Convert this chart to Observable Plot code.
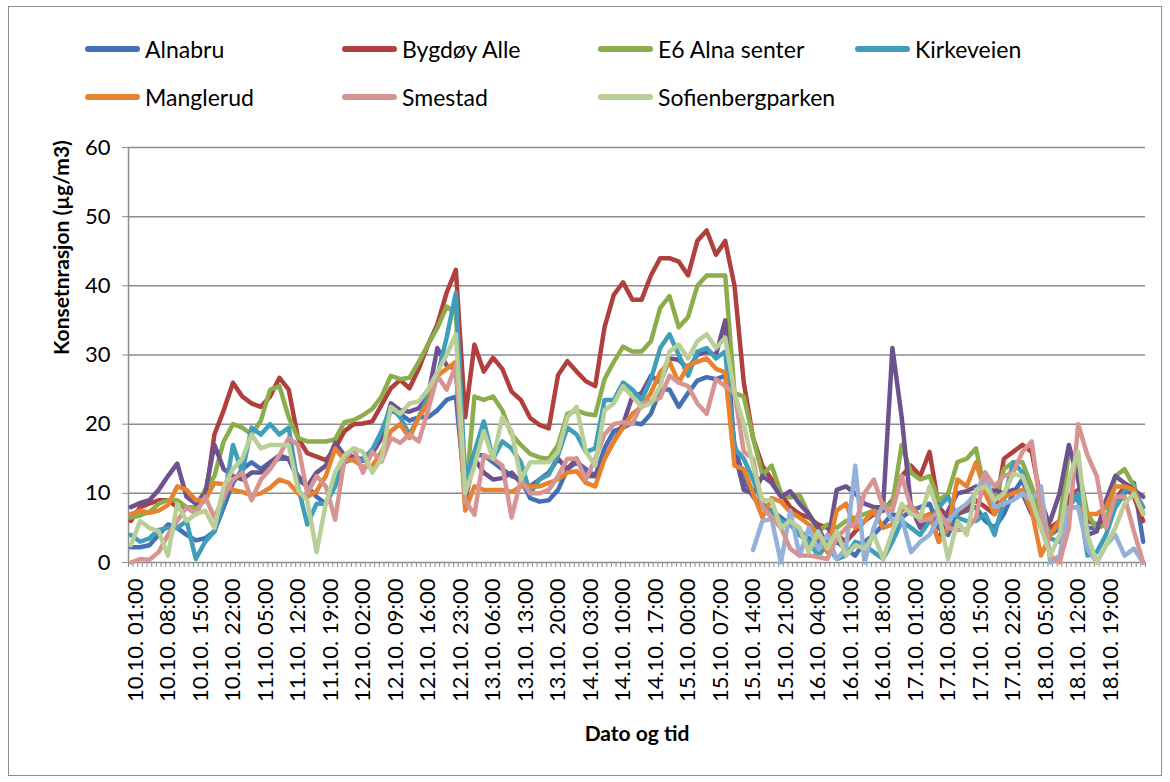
<!DOCTYPE html>
<html>
<head>
<meta charset="utf-8">
<script src="https://cdn.jsdelivr.net/npm/d3@7"></script>
<script src="https://cdn.jsdelivr.net/npm/@observablehq/plot@0.6"></script>
<style>
html, body { margin: 0; padding: 0; background: #fff; }
#wrap { position: relative; width: 1170px; height: 782px; overflow: hidden; font-family: Lato, "Open Sans", sans-serif; }
#frame { position: absolute; left: 8px; top: 6px; width: 1154px; height: 770px; border: 1px solid #8c8c8c; box-sizing: border-box; pointer-events: none; }
#legend { position: relative; width: 1170px; height: 130px; }
.item { position: absolute; display: flex; align-items: center; height: 28px; line-height: 28px; font-size: 23px; color: #000; white-space: nowrap; }
.swatch { width: 55px; height: 6px; border-radius: 3px; margin-right: 5px; }
#chart svg { display: block; }
</style>
</head>
<body>
<div id="wrap">
  <div id="legend"></div>
  <div id="chart"></div>
  <div id="frame"></div>
</div>
<script>
// ---- data (hourly categories, read every 2nd hour) ----
const xLabels = ["10.10. 01:00","10.10. 08:00","10.10. 15:00","10.10. 22:00","11.10. 05:00","11.10. 12:00","11.10. 19:00","12.10. 02:00","12.10. 09:00","12.10. 16:00","12.10. 23:00","13.10. 06:00","13.10. 13:00","13.10. 20:00","14.10. 03:00","14.10. 10:00","14.10. 17:00","15.10. 00:00","15.10. 07:00","15.10. 14:00","15.10. 21:00","16.10. 04:00","16.10. 11:00","16.10. 18:00","17.10. 01:00","17.10. 08:00","17.10. 15:00","17.10. 22:00","18.10. 05:00","18.10. 12:00","18.10. 19:00"];
const nCategories = 219;          // hourly categories 10.10. 00:00 ... 19.10. 02:00
const hours = d3.range(0, 219, 2); // hour index of each reading below
const yTicks = [0, 10, 20, 30, 40, 50, 60];

const alnabru = [2.2,2.2,2.5,4,5.5,5,4,3.2,3.5,4.5, 8,11.5,13.5,14.5,13.5,14.5,15,15,12,11, 9.5,8.5,12,14.5,15,15,16.3,18.5,22,21.5, 20.5,21,21,22,23.5,24,10,15.5,15.5,14.5, 13.5,12.5,12,9.3,8.8,9,10.5,13.5,14.5,13.5, 12.5,16.5,19,19.5,20.2,20,21.5,25,25,22.5, 24.5,26.3,26.8,26.5,27,17,12,9.5,8,7.5, 6.5,5.5,4.5,3.5,3,2.5,3,2,1,3, 4,5.5,7,6.5,7.5,8,8.5,5,4,7, 7.5,8,6,5,7,10,12,8,5.5,4, 5,9.5,9,5,5,5.5,8,10,11.5,3];
const bygdoy = [6,8,8.5,9,9,8,8,8,9,18.5, 22,26,24,23,22.5,24,26.7,25,18,15.8, 15.3,14.8,16.5,19,20,20.1,20.4,22.8,25.2,26.4, 25.2,28,31.5,34.4,39,42.3,21,31.5,27.6,29.6, 28,24.7,23.5,20.9,19.9,19.4,27.1,29.1,27.6,26.2, 25.5,34,38.7,40.5,38,38,41.5,44,44,43.5, 41.5,46.5,48,44.5,46.5,40,26,18,14,12, 10,8,7,6.5,5.5,5,4,3,4.5,6, 7,7.5,9,12.5,14,12.5,16,8,6.5,7, 8,9,8,7,15,16,17,16,9,5, 6,9.5,10.5,6,5.5,6,9,11,9.5,6];
const e6 = [6.5,6.8,7.3,8.5,9,9,8,8,10.5,12.5, 17.5,20,19.5,18.5,20.5,25,25.5,21,18,17.5, 17.5,17.5,17.8,20.3,20.6,21.3,22.2,24,27,26.5, 26.7,29,31.5,33.9,37,36,9,24,23.5,24, 22,18.5,17,15.7,15.2,15,17,21.5,22,21.5, 21.3,26.5,29,31.2,30.5,30.5,32,36.8,38.5,34, 35.5,40,41.5,41.5,41.5,24.5,24,18,12.7,14, 10,9.4,9.8,7,4.5,5.5,5,6,6.5,7, 7.5,8,8.5,17,13,12,12.5,9,10,14.5, 15,16.5,10,9,13.5,14.5,14.5,11,7,4, 6,16,14,7,5,5.5,12.5,13.5,11,7];
const kirkeveien = [4,3,3.5,4.7,5,5,6,0.5,3,4.5, 9,17,13,19.5,18.5,20,18.5,19.5,11,5.5, 8.5,8.5,11,14.5,15,14.8,16.3,19,22.5,21, 18.5,21,24,27,32.5,39,12,16,20.4,15, 17.5,16.5,14.5,10,12,12.7,15.5,19.5,18.5,16, 16.5,23.5,23.5,26,25,23.5,26.5,31,33,30, 27,30.5,31,29.5,30.5,16.5,15,12,8.5,7.5, 6,5.5,4,3,1,2.5,0.5,1,3,2.5, 1.5,0.5,3,6,5,4,6,8,9.5,6.5, 6,6,7,4,9,14.5,13,9,5,3.5, 3,8,10,1,1.5,4,8,10.5,10.5,8];
const manglerud = [7,7.5,7.2,7.5,8.3,11,10.5,9,9,11.5, 11.3,10.5,10.2,9.7,10,10.8,12,11.5,10,9.5, 10.3,12.5,16.5,14.8,14.8,13.8,14,16,19,20, 18,21,23,27,28,29,7.5,11,10.5,10.5, 10.5,10.2,11,11,11,11.5,12,13,13.2,11.5, 11,15,17.5,19.5,21.5,22.5,24.5,27.5,29,26, 28.5,29,29.5,28,27.5,14,13.5,10,6.5,9.3, 8.8,7.3,6.5,5.5,4,1.5,7.5,8.5,5,6, 7.5,5,5.5,7.5,8.3,6.5,7,3,5,12, 11,14.5,10,7,9.5,10,10.5,7.5,1,4, 6,8,8,7,7,8,11,11,10.5,7];
const smestad = [0,0.5,0.4,1.5,4,6,8,7,9.5,6.5, 9.5,12,13,9,12,13.5,15.5,18,17,10, 12.5,11,6.2,15,16.5,13,16,14.6,18,17.3, 18.5,17.5,22,27,25,28.5,9,6.9,15.5,15, 14,6.5,12,10,10,10.5,12.5,15,15,12, 15,18.5,20,20.3,20,23,23.3,23.8,27,26, 25.5,23,21.5,26.5,25.5,24.5,16,15,8,6.5, 5,2,1,1,0.8,0.5,3.5,5,5.5,10, 12,8,7.5,12.5,8,6,6.3,7.3,5,4.7, 4.8,6.5,13,11,12.5,13,16,17.5,7.5,1, 0,5,20,15.5,12.5,5,9.5,9.5,4.5,0];
const sofienberg = [2.5,6,5,4.5,1,8.5,6,7,7.5,5, 11,13.5,15,18.5,16.5,17,17,17,10.5,9, 1.5,8.5,13,15.5,16.5,16,13,15,22.5,21.5, 23,23.3,25,27.5,30,33,10,14,19,15, 21,19,12,14.5,14.5,14.5,16,21,22.5,16, 14,22,23,25.5,24,22.5,23,25.5,30.5,31.5, 29.5,32,33,31,32.5,24.5,20,14,9,9, 5,6,5,1.5,4.5,2,4.5,1,2.5,2, 4,0.5,4.5,8.5,7,6.5,11,7,0.5,6, 4,10.5,11,9,10,12.8,12.5,9,5,1, 4,12,16,4,0,2.5,5,8.5,10,7];
const purple = [8,8.6,9,10.5,12.5,14.3,9.5,8.5,10,17, 13.5,12.5,12,13,13,14.5,15.5,15,12.5,11, 13,14,17.3,15.5,15.3,14.7,15.8,18,23,22, 21.8,22.3,24,31,28.5,28,9,15,13,12, 12.2,13,11.5,11,12,13,15,13.5,15,12.5, 12.5,15,17.5,20,24,24.5,27,26,29.5,29.3, 28,30,30.5,30,35,16,10.5,10,12.5,11.5, 9.5,10.3,8.5,7,5,2.5,10.5,11,10,8.5, 8,8,31,21,8,5,7,3,7.5,10, 10.3,11,10,10.5,10,10.5,10,7,5.5,6, 10,17,12,4,4.5,9,12.5,11.5,10.5,9.5];
const paleBlue = [...Array(67).fill(null), 1.8,6,6.3,0,7.5,1,5,2,4,0.5,2,14,0,5,8.5,6,6.5,1.5,3,4,6.5,6,7.5,8.5,10,13,8,8.5,9,10,9,11,0,1,8,8,2,0,2.5,4,1,2,0];

// drawing order (later on top)
const series = [
  {name: "Alnabru", values: alnabru, color: "#4470B5"},
  {name: "Bygdøy Alle", values: bygdoy, color: "#B0403D"},
  {name: "E6 Alna senter", values: e6, color: "#8CAD4B"},
  {name: "(purple)", values: purple, color: "#6C528F"},
  {name: "Kirkeveien", values: kirkeveien, color: "#3F9EB9"},
  {name: "Manglerud", values: manglerud, color: "#E8822F"},
  {name: "(paleblue)", values: paleBlue, color: "#94B1D9"},
  {name: "Smestad", values: smestad, color: "#D69493"},
  {name: "Sofienbergparken", values: sofienberg, color: "#BACF97"}
];

const rows = [];
for (const s of series) {
  s.values.forEach((v, k) => { if (v != null) rows.push({s: s.name, i: hours[k], v}); });
}
const labelIdx = xLabels.map((d, k) => 1 + 7 * k);
const catBounds = d3.range(-0.5, nCategories, 1);

// ---- legend ----
const legendOrder = ["Alnabru","Bygdøy Alle","E6 Alna senter","Kirkeveien","Manglerud","Smestad","Sofienbergparken"];
const colX = [85, 342, 598, 855];
const rowY = [49, 97];
const legend = document.getElementById("legend");
legendOrder.forEach((name, k) => {
  const s = series.find(d => d.name === name);
  const el = document.createElement("div");
  el.className = "item";
  el.style.left = colX[k % 4] + "px";
  el.style.top = (rowY[Math.floor(k / 4)] - 14) + "px";
  el.innerHTML = `<span class="swatch" style="background:${s.color}"></span><span>${name}</span>`;
  legend.appendChild(el);
});

// ---- chart ----
const grey = "#8c8c8c";
const chart = Plot.plot({
  width: 1170,
  height: 652,
  marginLeft: 128,
  marginRight: 25,
  marginTop: 17,
  marginBottom: 220,
  x: {domain: [-0.5, nCategories - 0.5], axis: null},
  y: {domain: [0, 60], axis: null},
  color: {domain: series.map(d => d.name), range: series.map(d => d.color)},
  style: {fontFamily: "Lato, 'Open Sans', sans-serif", fontSize: "22px", color: "#000", background: "transparent", overflow: "visible"},
  marks: [
    Plot.gridY(yTicks.filter(d => d > 0), {stroke: grey, strokeOpacity: 1, strokeWidth: 1.5}),
    Plot.axisY({ticks: yTicks, tickSize: 6, tickPadding: 12, stroke: grey, fill: "#000", fontSize: 22, label: null}),
    Plot.axisX({ticks: catBounds, tickSize: 5, tickFormat: () => "", stroke: grey, label: null}),
    Plot.ruleX([-0.5], {stroke: grey, strokeWidth: 1.5}),
    Plot.ruleY([0], {stroke: grey, strokeWidth: 1.5}),
    Plot.line(rows, {x: "i", y: "v", z: "s", stroke: "s", strokeWidth: 4.5, strokeLinejoin: "round", strokeLinecap: "round"}),
    Plot.text(xLabels, {x: (d, k) => labelIdx[k], y: 0, text: d => d, rotate: -90, textAnchor: "end", lineAnchor: "middle", dy: 16, fontSize: 22, fill: "#000"}),
    Plot.text(["Konsetnrasjon (µg/m3)"], {frameAnchor: "left", dx: -66, rotate: -90, text: d => d, fontWeight: "bold", fontSize: 21, fill: "#000"}),
    Plot.text(["Dato og tid"], {frameAnchor: "bottom", dy: 178, text: d => d, fontWeight: "bold", fontSize: 21, fill: "#000"})
  ]
});
document.getElementById("chart").appendChild(chart);
</script>
</body>
</html>
